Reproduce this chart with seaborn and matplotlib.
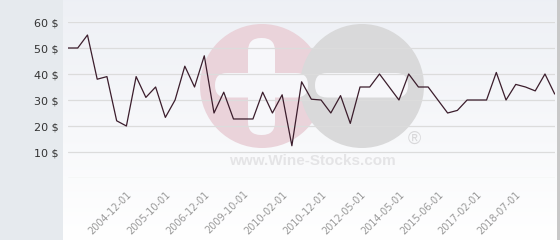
import numpy as np
import pandas as pd
import matplotlib
matplotlib.use("Agg")
import matplotlib.pyplot as plt
import seaborn as sns
from matplotlib.patches import Circle, FancyBboxPatch, Rectangle

# ---- data ----
prices = [50, 50, 55, 38, 39, 22, 20, 39, 31, 35, 23.3, 30, 43, 35, 47, 25, 33,
          22.7, 22.7, 22.7, 33, 25, 32, 12.4, 37, 30.3, 30, 25, 31.7, 21, 35, 35,
          40, 35, 30, 40, 35, 35, 30, 25, 26, 30, 30, 30, 40.6, 30, 36, 35, 33.5,
          40, 32.3]
tick_index = [6, 10, 14, 18, 22, 26, 30, 34, 38, 42, 46]
tick_labels = ["2004-12-01", "2005-10-01", "2006-12-01", "2009-10-01", "2010-02-01",
               "2010-12-01", "2012-05-01", "2014-05-01", "2015-06-01", "2017-02-01",
               "2018-07-01"]
y_ticks = [10, 20, 30, 40, 50, 60]
y_labels = [f"{v} $" for v in y_ticks]

df = pd.DataFrame({"i": np.arange(len(prices)), "price": prices})

sns.set_theme(style="white")
plt.rcParams['font.family'] = ['DejaVu Sans']

W, H = 560, 240
fig = plt.figure(figsize=(W / 100, H / 100), dpi=100)
fig.patch.set_facecolor("white")

# background axes in pixel coordinates
bg = fig.add_axes([0, 0, 1, 1], zorder=0)
bg.set_xlim(0, W)
bg.set_ylim(H, 0)
bg.axis("off")
bg.add_patch(Rectangle((0, 0), 63, H, color="#e6eaee", lw=0))
grad = np.linspace(0, 1, 256).reshape(-1, 1)
top = np.array([0.933, 0.941, 0.961])
bot = np.array([1.0, 1.0, 1.0])
img = top[None, None, :] * (1 - grad[:, :, None]) + bot[None, None, :] * grad[:, :, None]
bg.imshow(img, extent=(63, 557, H, 0), aspect="auto", zorder=0)
bg.add_patch(Rectangle((557, 0), 3, H, color="#c8c8c8", lw=0, zorder=1))
# watermark
bg.add_patch(Circle((262, 86), 62, color="#ead3da", lw=0, zorder=2))
bg.add_patch(Circle((362, 86), 62, color="#d9d9da", lw=0, zorder=3))
bg.add_patch(FancyBboxPatch((248 + 13, 38 + 13), 1, 97 - 26,
                            boxstyle="round,pad=13", color="#f7f7fa", lw=0, zorder=4))
bg.add_patch(FancyBboxPatch((215 + 12, 73 + 12), 93 - 24, 0.5,
                            boxstyle="round,pad=12", color="#f7f7fa", lw=0, zorder=4))
bg.add_patch(FancyBboxPatch((315 + 12, 73 + 12), 93 - 24, 0.5,
                            boxstyle="round,pad=12", color="#f7f7fa", lw=0, zorder=4))
bg.text(312, 161, "www.Wine-Stocks.com", ha="center", va="center",
        fontsize=11, fontweight="bold", color="#e4e4e6",
        family=["Liberation Sans", "DejaVu Sans"], zorder=5)
bg.text(414, 139, "\u00ae", ha="center", va="center", fontsize=13,
        color="#d8d8da", family=["Liberation Sans", "DejaVu Sans"], zorder=5)

# main axes
x0, x1 = 68, 554.7
y0, y1 = 178, 22
ax = fig.add_axes([x0 / W, 1 - y0 / H, (x1 - x0) / W, (y0 - y1) / H], zorder=1)
ax.patch.set_alpha(0)
sns.lineplot(data=df, x="i", y="price", ax=ax, color="#3b1d2c", lw=0.9)
ax.set_xlim(0, len(prices) - 1)
ax.set_ylim(0, 60)
for s in ax.spines.values():
    s.set_visible(False)
ax.set_yticks([0] + y_ticks)
ax.set_yticklabels([""] + y_labels, fontsize=8, color="#333333")
ax.grid(axis="y", color="#dcdcdc", lw=0.9)
ax.set_axisbelow(True)
ax.tick_params(axis="y", length=0, pad=7)
ax.set_xticks(tick_index)
ax.set_xticklabels(tick_labels, rotation=45, ha="right", rotation_mode="anchor",
                   fontsize=7, color="#999999")
ax.tick_params(axis="x", length=0, pad=8)
ax.set_xlabel("")
ax.set_ylabel("")

fig.savefig("out.png", dpi=100)
